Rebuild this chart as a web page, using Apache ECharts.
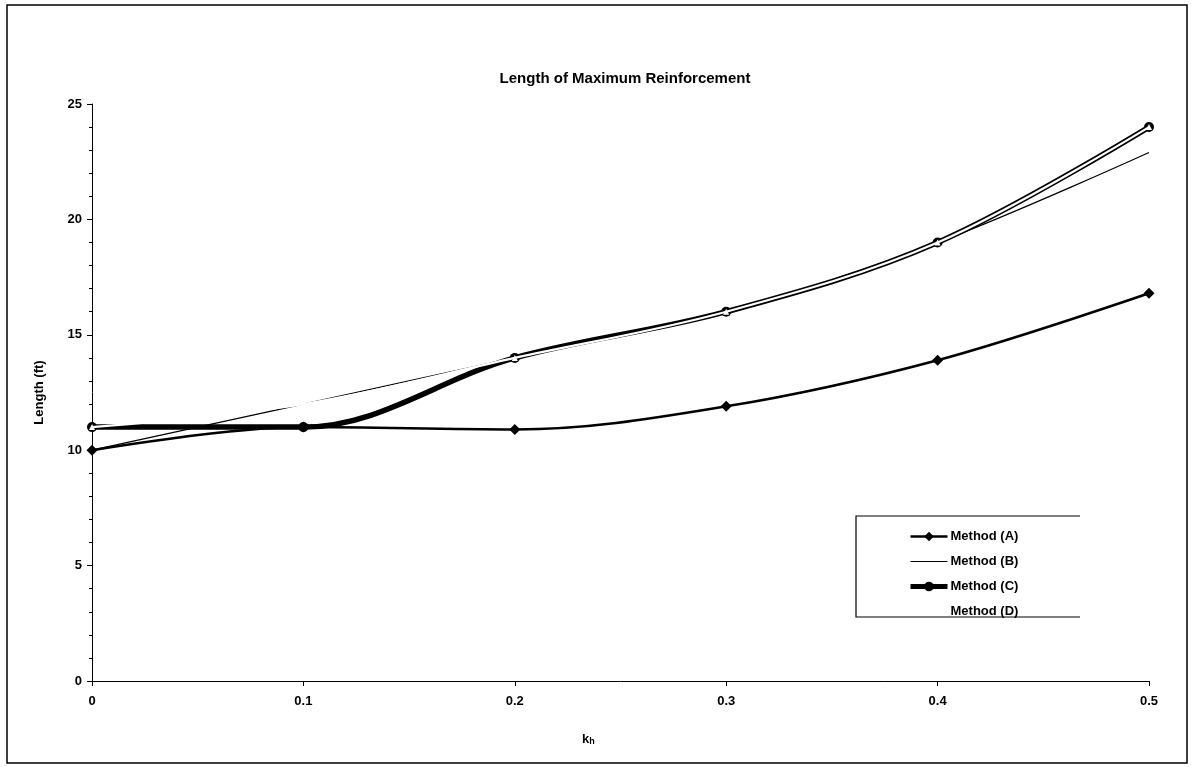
<!DOCTYPE html>
<html>
<head>
<meta charset="utf-8">
<script src="https://cdn.jsdelivr.net/npm/echarts@6/dist/echarts.min.js"></script>
<style>
html,body{margin:0;padding:0;background:#fff;}
#chart{width:1196px;height:767px;}
</style>
</head>
<body>
<div id="chart"></div>
<script>
const kh = [0, 0.1, 0.2, 0.3, 0.4, 0.5];
const methodA = [10, 11, 10.9, 11.9, 13.9, 16.8];
const methodB = [10, 12, 14, 16, 19, 22.9];
const methodC = [11, 11, 14, 16, 19, 24];
const methodD = [11, 12, 14, 16, 19, 24];
const seriesNames = ['Method (A)', 'Method (B)', 'Method (C)', 'Method (D)'];
const titleText = 'Length of Maximum Reinforcement';
const yAxisName = 'Length (ft)';

const pairs = v => kh.map((x, i) => [x, v[i]]);
const FONT = '"Liberation Sans", Arial, sans-serif';

const chart = echarts.init(document.getElementById('chart'), null, {renderer: 'canvas'});
chart.setOption({
  backgroundColor: '#fff',
  animation: false,
  title: {
    text: titleText, left: 620, top: 66, textAlign: 'center',
    textStyle: {fontFamily: FONT, fontWeight: 'bold', fontSize: 15, color: '#000'}
  },
  grid: {left: 92, right: 47, top: 104, bottom: 86},
  xAxis: {
    type: 'value', min: 0, max: 0.5, interval: 0.1,
    axisLine: {lineStyle: {color: '#000', width: 1}},
    axisTick: {show: true, length: 5, lineStyle: {color: '#000'}},
    axisLabel: {fontFamily: FONT, fontWeight: 'bold', fontSize: 13, color: '#000', margin: 14,
      formatter: v => String(Math.round(v * 10) / 10)},
    splitLine: {show: false}
  },
  yAxis: {
    type: 'value', min: 0, max: 25, interval: 5,
    name: yAxisName, nameLocation: 'middle', nameGap: 46, nameRotate: 90,
    nameTextStyle: {fontFamily: FONT, fontWeight: 'bold', fontSize: 13, color: '#000'},
    axisLine: {show: true, lineStyle: {color: '#000', width: 1}},
    axisTick: {show: true, length: 5, lineStyle: {color: '#000'}},
    minorTick: {show: true, splitNumber: 5, length: 3, lineStyle: {color: '#000'}},
    axisLabel: {fontFamily: FONT, fontWeight: 'bold', fontSize: 13, color: '#000', margin: 10},
    splitLine: {show: false}
  },
  legend: {
    orient: 'vertical', left: 903, top: 525,
    itemWidth: 37, itemHeight: 12, itemGap: 12,
    data: [
      {name: seriesNames[0], itemStyle: {color: '#000'}, lineStyle: {color: '#000', width: 2.5}},
      {name: seriesNames[1], itemStyle: {color: 'rgba(0,0,0,0)', borderWidth: 0}, lineStyle: {color: '#000', width: 1.2}},
      {name: seriesNames[2], itemStyle: {color: '#000'}, lineStyle: {color: '#000', width: 5}},
      {name: seriesNames[3], itemStyle: {color: 'rgba(0,0,0,0)', borderWidth: 0}, lineStyle: {color: 'rgba(0,0,0,0)', width: 1}}
    ],
    textStyle: {fontFamily: FONT, fontWeight: 'bold', fontSize: 13, color: '#000', padding: [0,0,0,-2]}
  },
  graphic: [
    {type: 'rect', shape: {x: 7, y: 5, width: 1180, height: 758}, style: {fill: 'none', stroke: '#000', lineWidth: 1.5}, silent: true},
    {type: 'polyline', shape: {points: [[1080, 516], [856, 516], [856, 617], [1080, 617]]}, style: {fill: 'none', stroke: '#000', lineWidth: 1.2}, silent: true},
    {type: 'text', left: 582, top: 733, silent: true,
      style: {text: '{k|k}{h|h}', rich: {
        k: {fontFamily: FONT, fontWeight: 'bold', fontSize: 13, fill: '#000'},
        h: {fontFamily: FONT, fontWeight: 'bold', fontSize: 9, fill: '#000', padding: [4,0,0,0]}
      }}}
  ],
  series: [
    {name: seriesNames[0], type: 'line', data: pairs(methodA), smooth: 0.35,
      symbol: 'diamond', symbolSize: 11, showAllSymbol: true,
      lineStyle: {color: '#000', width: 2.5}, itemStyle: {color: '#000'}, z: 2},
    {name: seriesNames[1], type: 'line', data: pairs(methodB), smooth: 0.35,
      symbol: 'none',
      lineStyle: {color: '#000', width: 1.2}, itemStyle: {color: '#000'}, z: 3},
    {name: seriesNames[2], type: 'line', data: pairs(methodC), smooth: 0.35,
      symbol: 'circle', symbolSize: 10,
      lineStyle: {color: '#000', width: 5.5}, itemStyle: {color: '#000'}, z: 4},
    {name: seriesNames[3], type: 'line', data: pairs(methodD), smooth: 0.35,
      symbol: 'triangle', symbolSize: 6,
      lineStyle: {color: '#fff', width: 2.2}, itemStyle: {color: '#fff'}, z: 5}
  ]
});
</script>
</body>
</html>
